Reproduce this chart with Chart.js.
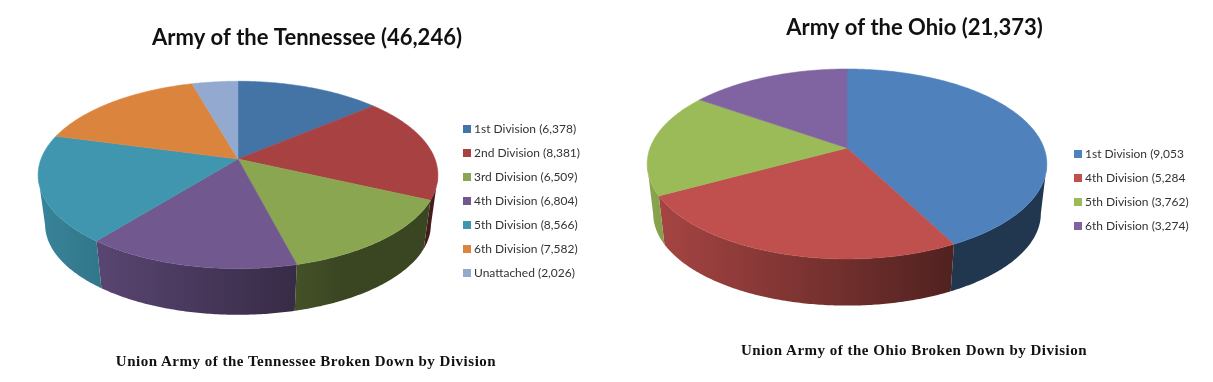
<!DOCTYPE html>
<html>
<head>
<meta charset="utf-8">
<title>Union Army by Division</title>
<script src="https://cdn.jsdelivr.net/npm/chart.js@4"></script>
<style>
    html, body { margin: 0; padding: 0; background: #fff; }
    body { position: relative; width: 1213px; height: 382px; overflow: hidden; }
    canvas { position: absolute; top: 0; }
    #chartTennessee { left: 0; }
    #chartOhio { left: 616px; }
    .caption {
        position: absolute;
        font: bold 15px "Liberation Serif", serif;
        letter-spacing: 0.5px;
        color: #111;
        text-align: center;
        white-space: nowrap;
        transform: translateX(-50%);
    }
</style>
</head>
<body>
<canvas id="chartTennessee" width="614" height="382"></canvas>
<canvas id="chartOhio" width="597" height="382"></canvas>
<div class="caption" style="left:306px;top:353px">Union Army of the Tennessee Broken Down by Division</div>
<div class="caption" style="left:914px;top:342px">Union Army of the Ohio Broken Down by Division</div>

<script>
// Datos
const tennesseeLabels = ['1st Division (6,378)', '2nd Division (8,381)', '3rd Division (6,509)', '4th Division (6,804)', '5th Division (8,566)', '6th Division (7,582)', 'Unattached (2,026)'];
const tennesseeValues = [6378, 8381, 6509, 6804, 8566, 7582, 2026];
const tennesseeColors = ['#4473a5', '#a74142', '#8aa650', '#71588f', '#4096af', '#db843d', '#93a9cf'];

const ohioLabels = ['1st Division (9,053', '4th Division (5,284', '5th Division (3,762)', '6th Division (3,274)'];
const ohioValues = [9053, 5284, 3762, 3274];
const ohioColors = ['#4f81bd', '#c0504d', '#9bbb59', '#8064a2'];

function shade(hex, f) {
    const n = parseInt(hex.slice(1), 16);
    const r = Math.round((n >> 16) * f);
    const g = Math.round(((n >> 8) & 255) * f);
    const b = Math.round((n & 255) * f);
    return `rgb(${r},${g},${b})`;
}

// Dibuja los arcos de Chart.js como un pastel 3D con perspectiva
const pie3d = {
    id: 'pie3d',
    afterLayout(chart, args, opts) {
        const legend = chart.legend;
        legend.left = opts.legendX;
        legend.right = opts.legendX + 200;
        legend.top = opts.legendY;
        legend.bottom = opts.legendY + 300;
    },
    beforeDatasetDraw(chart, args, opts) {
        const ctx = chart.ctx;
        const arcs = chart.getDatasetMeta(args.index).data;
        const colors = chart.data.datasets[args.index].backgroundColor;

        const project = (angle, bottom) => {
            const u = Math.cos(angle), v = Math.sin(angle);
            const w = 1 - opts.persp * v;
            const s = bottom ? opts.baseScale : 1;
            return {
                x: opts.cx + opts.rx * u / w * s,
                y: opts.cy + (bottom ? opts.depth : 0) + opts.ry * v / w * s,
                v: v
            };
        };

        // Paredes laterales, solo la parte que mira al frente
        const xMin = opts.cx - 200, xMax = opts.cx + 200;
        arcs.forEach((arc, i) => {
            const steps = Math.max(2, Math.ceil((arc.endAngle - arc.startAngle) * 90));
            const top = [], bottom = [];
            for (let k = 0; k <= steps; k++) {
                const a = arc.startAngle + (arc.endAngle - arc.startAngle) * k / steps;
                if (Math.sin(a) >= opts.persp) {
                    top.push(project(a, false));
                    bottom.push(project(a, true));
                }
            }
            if (top.length < 2) return;
            const grad = ctx.createLinearGradient(xMin, 0, xMax, 0);
            grad.addColorStop(0, shade(colors[i], 0.88));
            grad.addColorStop(0.76, shade(colors[i], 0.42));
            grad.addColorStop(1, shade(colors[i], 0.42));
            ctx.beginPath();
            top.forEach((p, k) => k ? ctx.lineTo(p.x, p.y) : ctx.moveTo(p.x, p.y));
            bottom.reverse().forEach(p => ctx.lineTo(p.x, p.y));
            ctx.closePath();
            ctx.fillStyle = grad;
            ctx.fill();
        });

        // Cara superior
        arcs.forEach((arc, i) => {
            const steps = Math.max(2, Math.ceil((arc.endAngle - arc.startAngle) * 90));
            ctx.beginPath();
            ctx.moveTo(opts.cx, opts.cy);
            for (let k = 0; k <= steps; k++) {
                const p = project(arc.startAngle + (arc.endAngle - arc.startAngle) * k / steps, false);
                ctx.lineTo(p.x, p.y);
            }
            ctx.closePath();
            ctx.fillStyle = colors[i];
            ctx.fill();
            ctx.strokeStyle = colors[i];
            ctx.lineWidth = 0.5;
            ctx.stroke();
        });

        return false; // no dibujar el pastel plano
    }
};

function makePie(id, title, titleTop, labels, values, colors, shape) {
    const ctx = document.getElementById(id).getContext('2d');
    return new Chart(ctx, {
        type: 'pie',
        data: {
            labels: labels,
            datasets: [{ data: values, backgroundColor: colors, borderWidth: 0 }]
        },
        options: {
            responsive: false,
            animation: false,
            plugins: {
                tooltip: { enabled: false },
                title: {
                    display: true,
                    text: title,
                    color: '#111',
                    font: { family: 'Lato', size: 22, weight: 'bold' },
                    padding: { top: titleTop, bottom: 4 }
                },
                legend: {
                    position: 'right',
                    align: 'start',
                    labels: {
                        // boxWidth chico: el cuadro sigue de 8px pero el texto queda mas cerca
                        usePointStyle: true,
                        pointStyle: 'rect',
                        boxWidth: 2,
                        boxHeight: 8,
                        padding: 12,
                        color: '#333',
                        font: { family: 'Lato', size: 12 }
                    }
                },
                pie3d: shape
            }
        },
        plugins: [pie3d]
    });
}

// cx, cy: vertice del pastel en la imagen; los otros valores dan la perspectiva
makePie('chartTennessee', 'Army of the Tennessee (46,246)', 25, tennesseeLabels, tennesseeValues, tennesseeColors, {
    cx: 238, cy: 159, rx: 197, ry: 91, persp: 0.17, depth: 50, baseScale: 0.965,
    legendX: 454, legendY: 111
});

makePie('chartOhio', 'Army of the Ohio (21,373)', 15, ohioLabels, ohioValues, ohioColors, {
    cx: 231, cy: 148, rx: 197, ry: 92.3, persp: 0.168, depth: 50, baseScale: 0.97,
    legendX: 449, legendY: 136
});
</script>
</body>
</html>
